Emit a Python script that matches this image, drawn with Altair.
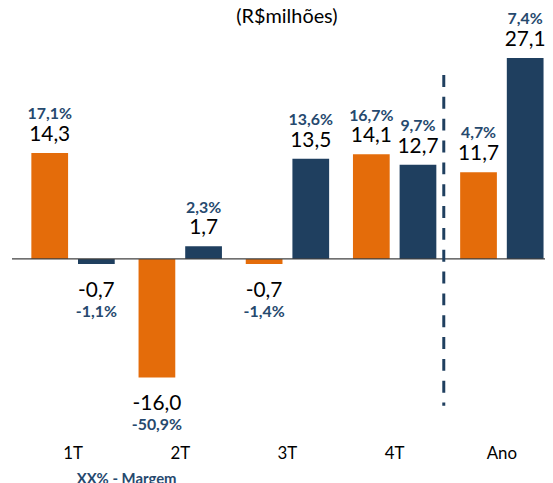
import altair as alt
import pandas as pd

categories = ["1T", "2T", "3T", "4T", "Ano"]
series = ["Série 1", "Série 2"]
orange_vals = [14.3, -16.0, -0.7, 14.1, 11.7]
blue_vals = [-0.7, 1.7, 13.5, 12.7, 27.1]
orange_margin = ["17,1%", "-50,9%", "-1,4%", "16,7%", "4,7%"]
blue_margin = ["-1,1%", "2,3%", "13,6%", "9,7%", "7,4%"]

# separator between the quarters and the year (fraction of the plot width)
sep_pos = [0.8101]
sep_top = [24.8]
sep_bottom = [-19.8]

ORANGE = "#E46C0A"
BLUE = "#1F3F5F"
MARGIN_COLOR = "#26496E"
FONT = "Lato"

rows = []
for c, ov, bv, om, bm in zip(categories, orange_vals, blue_vals, orange_margin, blue_margin):
    rows.append({"cat": c, "serie": series[0], "value": ov,
                 "label": f"{ov:.1f}".replace(".", ","), "margin": om})
    rows.append({"cat": c, "serie": series[1], "value": bv,
                 "label": f"{bv:.1f}".replace(".", ","), "margin": bm})
df = pd.DataFrame(rows)

sep_df = pd.DataFrame({"pos": sep_pos, "top": sep_top, "bottom": sep_bottom})

x_scale = alt.Scale(domain=categories, paddingInner=0.2222, paddingOuter=0.0972, align=0.93)
y_scale = alt.Scale(domain=[-24.23, 29.32], nice=False, zero=False)
off_scale = alt.Scale(domain=series, paddingInner=0.2128, paddingOuter=0)

x_enc = alt.X("cat:N", scale=x_scale, sort=categories,
              axis=alt.Axis(title="XX% - Margem", domain=False, ticks=False, tickSize=0,
                            labelFontSize=17, labelFont=FONT, labelColor="#000000",
                            labelPadding=7, labelAngle=0,
                            titleFont=FONT, titleFontSize=15, titleFontWeight="bold",
                            titleColor=MARGIN_COLOR, titleX=115, titleY=45,
                            titleAlign="center", titleBaseline="alphabetic"))
y_enc = alt.Y("value:Q", scale=y_scale, axis=None)
off_enc = alt.XOffset("serie:N", scale=off_scale, sort=series)

base = alt.Chart(df).encode(x=x_enc, xOffset=off_enc)

bars = base.mark_bar().encode(
    y=y_enc,
    y2=alt.datum(0),
    color=alt.Color("serie:N", scale=alt.Scale(domain=series, range=[ORANGE, BLUE]), legend=None),
)

pos = base.transform_filter("datum.value >= 0")
neg = base.transform_filter("datum.value < 0")

pos_val = pos.mark_text(font=FONT, fontSize=21, color="#000000", baseline="alphabetic", dy=-12).encode(
    y=y_enc, text="label:N")
pos_mar = pos.mark_text(font=FONT, fontSize=16, fontWeight="bold", color=MARGIN_COLOR,
                        baseline="alphabetic", dy=-34).encode(y=y_enc, text="margin:N")
neg_val = neg.mark_text(font=FONT, fontSize=21, color="#000000", baseline="alphabetic", dy=33).encode(
    y=y_enc, text="label:N")
neg_mar = neg.mark_text(font=FONT, fontSize=16, fontWeight="bold", color=MARGIN_COLOR,
                        baseline="alphabetic", dy=53).encode(y=y_enc, text="margin:N")

zero = alt.Chart(pd.DataFrame({"z": [0]})).mark_rule(color="#404040", strokeWidth=1.2).encode(
    y=alt.Y("z:Q", scale=y_scale, axis=None))

main = alt.layer(bars, zero, pos_val, pos_mar, neg_val, neg_mar)

sep = alt.Chart(sep_df).mark_rule(color=BLUE, strokeWidth=3, strokeDash=[12, 10]).encode(
    x=alt.X("pos:Q", scale=alt.Scale(domain=[0, 1], nice=False, zero=False), axis=None),
    y=alt.Y("top:Q", scale=y_scale, axis=None),
    y2="bottom:Q",
)

chart = alt.layer(main, sep).resolve_scale(x="independent").properties(
    width=537,
    height=400,
    autosize=alt.AutoSizeParams(type="none"),
    padding={"left": 4, "top": 32, "right": 0, "bottom": 43},
    title=alt.TitleParams("(R$milhões)", font=FONT, fontSize=20, fontWeight="normal",
                          color="#000000", anchor="middle", dx=8.5, offset=-16),
).configure(background="white").configure_view(stroke=None)

chart.save("out.html", embed_options={"renderer": "svg", "actions": False})
